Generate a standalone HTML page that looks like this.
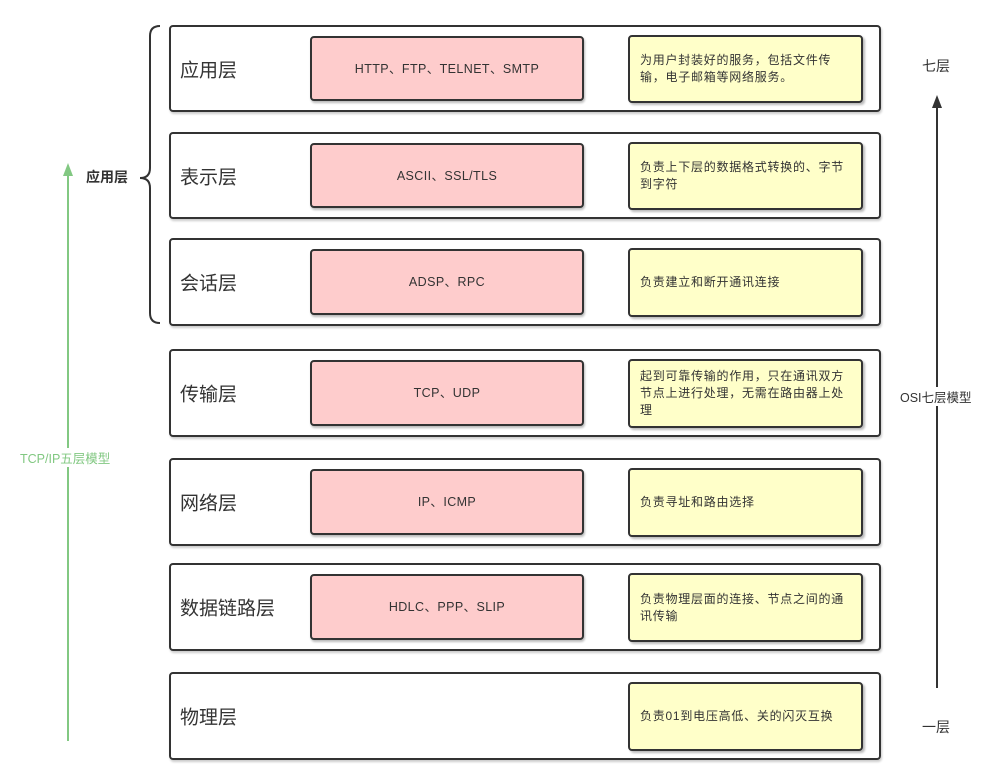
<!DOCTYPE html><html><head><meta charset="utf-8"><style>
body{margin:0;width:997px;height:783px;background:#fff;position:relative;overflow:hidden;font-family:"Liberation Sans","Noto Sans CJK SC",sans-serif;color:#333}
.r{position:absolute;left:169px;border:2px solid #333;border-radius:4px;box-sizing:border-box;width:712px;box-shadow:1px 2px 2px #ccc}
.n{position:absolute;left:9px;font-size:19px;top:50%;transform:translateY(-50%)}
.p{position:absolute;left:139px;width:274px;top:9px;bottom:9px;background:#fecccc;border:2px solid #333;border-radius:4px;box-sizing:border-box;display:flex;align-items:center;justify-content:center;font-size:12.5px;letter-spacing:0.4px;box-shadow:1px 2px 2px #bbb;padding-bottom:3px}
.y{position:absolute;left:457px;width:235px;top:8px;bottom:7px;background:#ffffc9;border:2px solid #333;border-radius:4px;box-sizing:border-box;display:flex;align-items:center;padding:0 4px 0 10px;font-size:12px;letter-spacing:0.75px;line-height:17px;box-shadow:2px 2px 2px #bbb}
.t{position:absolute;font-size:14px;white-space:nowrap}
</style></head><body>
<div class="r" style="top:25px;height:87px"><div class="n">应用层</div><div class="p">HTTP、FTP、TELNET、SMTP</div><div class="y">为用户封装好的服务，包括文件传<br>输，电子邮箱等网络服务。</div></div>
<div class="r" style="top:132px;height:87px"><div class="n">表示层</div><div class="p">ASCII、SSL/TLS</div><div class="y">负责上下层的数据格式转换的、字节<br>到字符</div></div>
<div class="r" style="top:238px;height:88px"><div class="n">会话层</div><div class="p">ADSP、RPC</div><div class="y">负责建立和断开通讯连接</div></div>
<div class="r" style="top:349px;height:88px"><div class="n">传输层</div><div class="p">TCP、UDP</div><div class="y">起到可靠传输的作用，只在通讯双方<br>节点上进行处理，无需在路由器上处<br>理</div></div>
<div class="r" style="top:458px;height:88px"><div class="n">网络层</div><div class="p">IP、ICMP</div><div class="y">负责寻址和路由选择</div></div>
<div class="r" style="top:563px;height:88px"><div class="n">数据链路层</div><div class="p">HDLC、PPP、SLIP</div><div class="y">负责物理层面的连接、节点之间的通<br>讯传输</div></div>
<div class="r" style="top:672px;height:88px"><div class="n">物理层</div><div class="y">负责01到电压高低、关的闪灭互换</div></div>
<svg width="997" height="783" style="position:absolute;left:0;top:0" fill="none">
<path d="M160 26 Q150 26 150 36 L150 168 Q150 178 140 178 Q150 178 150 188 L150 313 Q150 323 160 323" stroke="#333" stroke-width="2"/>
<line x1="68" y1="741" x2="68" y2="174" stroke="#82c882" stroke-width="2"/>
<path d="M63 176 L68 163 L73 176 Z" fill="#82c882"/>
<line x1="937" y1="688" x2="937" y2="106" stroke="#333" stroke-width="2"/>
<path d="M932 108 L937 95 L942 108 Z" fill="#333"/>
</svg>
<div class="t" style="left:86px;top:167px;font-weight:bold">应用层</div>
<div class="t" style="left:20px;top:448px;font-size:12.5px;color:#82c882;background:#fff">TCP/IP五层模型</div>
<div class="t" style="left:922px;top:56px">七层</div>
<div class="t" style="left:922px;top:717px">一层</div>
<div class="t" style="left:900px;top:387px;font-size:12.5px;background:#fff">OSI七层模型</div>
</body></html>
